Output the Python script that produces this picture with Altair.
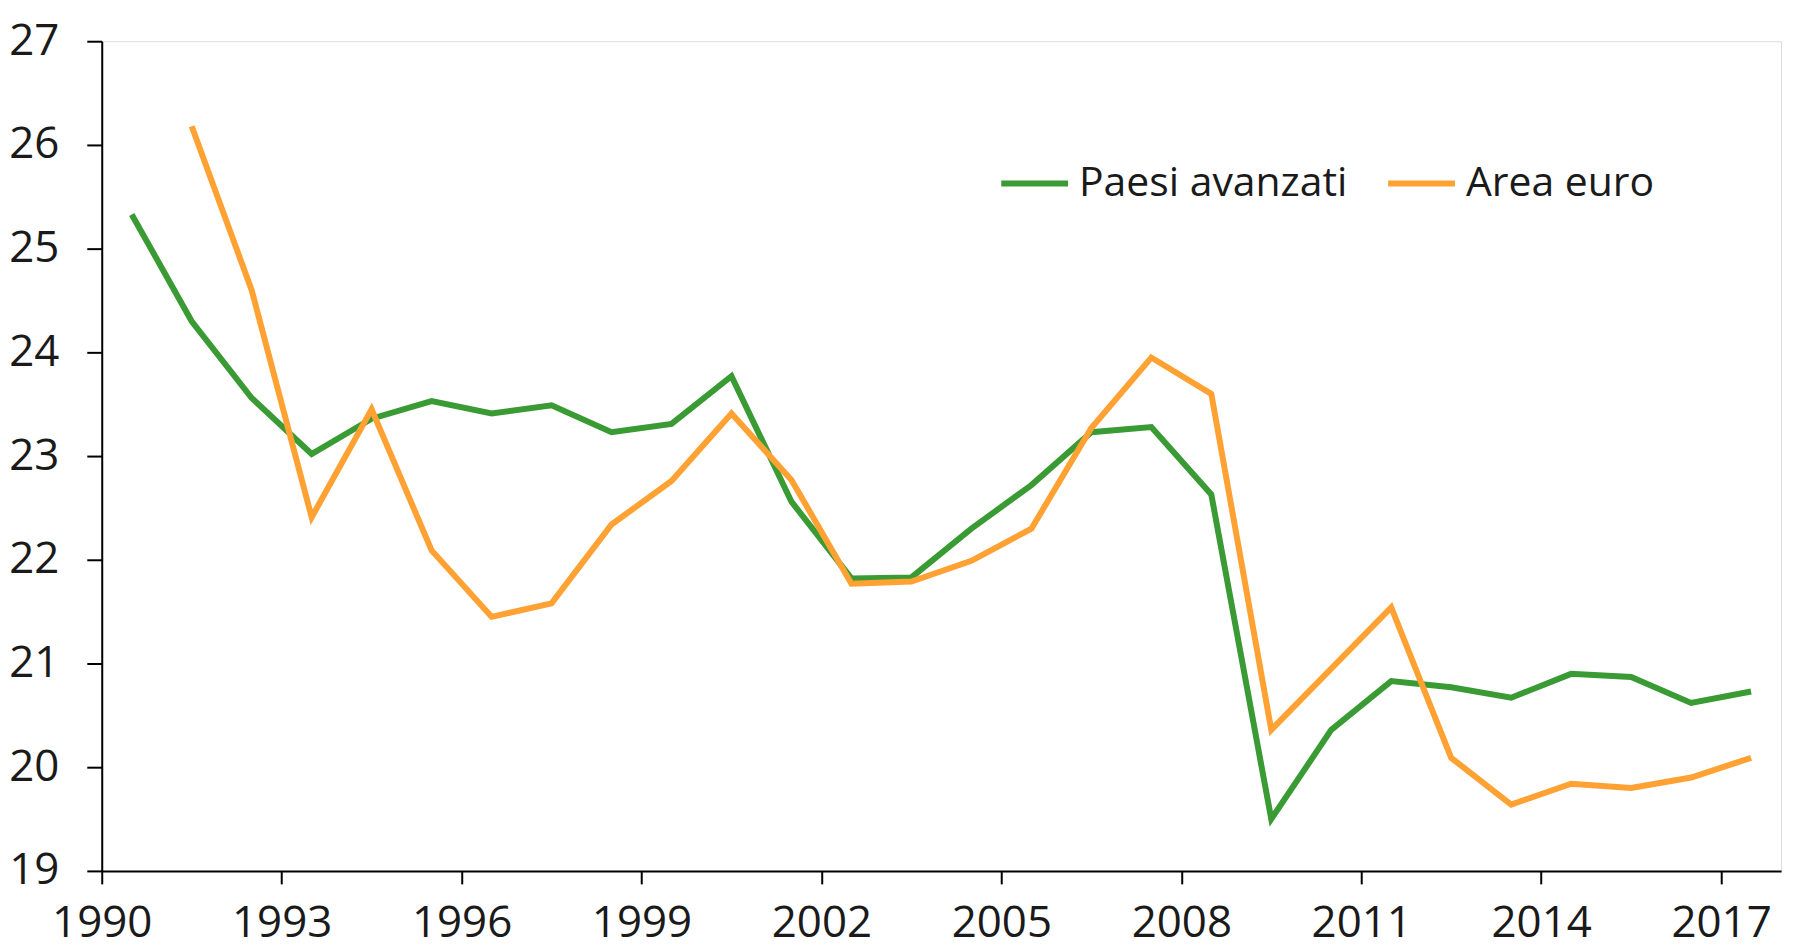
import altair as alt
import pandas as pd

years = list(range(1990, 2018))
paesi_avanzati = [25.33, 24.30, 23.56, 23.02, 23.36, 23.53, 23.41, 23.49, 23.23, 23.31,
                  23.77, 22.56, 21.82, 21.83, 22.30, 22.72, 23.23, 23.28, 22.63, 19.50,
                  20.36, 20.83, 20.77, 20.67, 20.90, 20.87, 20.62, 20.73]
area_euro = [None, 26.18, 24.60, 22.41, 23.45, 22.09, 21.45, 21.58, 22.34, 22.76,
             23.41, 22.77, 21.77, 21.79, 21.99, 22.30, 23.27, 23.95, 23.60, 20.36,
             20.95, 21.54, 20.09, 19.64, 19.84, 19.80, 19.90, 20.09]
series_names = ["Paesi avanzati", "Area euro"]
series_colors = ["#3A9B35", "#FFA233"]
x_tick_years = list(range(1990, 2018, 3))
y_ticks = list(range(19, 28))

rows = []
for name, vals in zip(series_names, [paesi_avanzati, area_euro]):
    for y, v in zip(years, vals):
        if v is not None:
            rows.append({"anno": y, "valore": v, "serie": name})
df = pd.DataFrame(rows)

FONT = "Open Sans"
FS = 44
LFS = 41

chart = (
    alt.Chart(df)
    .transform_calculate(xpos="datum.anno + 0.5")
    .mark_line(strokeWidth=6, strokeJoin="miter")
    .encode(
        x=alt.X(
            "xpos:Q",
            scale=alt.Scale(domain=[1990, 2018], nice=False, zero=False),
            axis=alt.Axis(
                values=x_tick_years, format="d", title=None, grid=False,
                tickSize=13, tickWidth=2, tickColor="black",
                domainColor="black", domainWidth=2,
                labelPadding=18, labelFontSize=FS, labelFont=FONT, labelColor="#1a1a1a",
                labelFlush=False, labelOverlap=False,
            ),
        ),
        y=alt.Y(
            "valore:Q",
            scale=alt.Scale(domain=[19, 27], nice=False, zero=False),
            axis=alt.Axis(
                values=y_ticks, title=None, grid=False,
                tickSize=15, tickWidth=2, tickColor="black",
                domainColor="black", domainWidth=2,
                labelPadding=28, labelFontSize=FS, labelFont=FONT, labelColor="#1a1a1a",
                labelFlush=False, labelOverlap=False,
            ),
        ),
        color=alt.Color(
            "serie:N",
            scale=alt.Scale(domain=series_names, range=series_colors),
            sort=series_names,
            legend=alt.Legend(
                title=None, orient="none", direction="horizontal",
                legendX=899, legendY=106,
                symbolType="stroke", symbolSize=4489, symbolStrokeWidth=6,
                labelFontSize=LFS, labelFont=FONT, labelColor="#1a1a1a",
                labelOffset=8, columnPadding=28, labelLimit=500,
            ),
        ),
    )
    .properties(
        width=1684, height=832,
        autosize=alt.AutoSizeParams(type="none"),
        padding={"left": 94, "top": 32, "right": 20, "bottom": 77},
    )
    .configure_view(stroke="black", strokeWidth=2)
    .configure(background="white")
)

chart.save("out.html", embed_options={"renderer": "svg", "actions": False})
